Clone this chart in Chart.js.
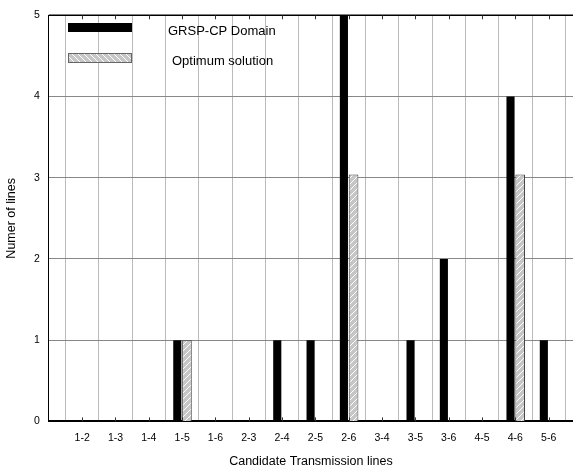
<!DOCTYPE html>
<html>
<head>
<meta charset="utf-8">
<script src="https://cdn.jsdelivr.net/npm/chart.js@4.4.0/dist/chart.umd.min.js"></script>
<style>
	html, body { margin:0; padding:0; background:#fff; }
	#wrap { width:573px; height:471px; }
</style>
</head>
<body>
<div id="wrap"><canvas id="lineChart"></canvas></div>
<script>
var lineNames = ['1-2', '1-3', '1-4', '1-5', '1-6', '2-3', '2-4', '2-5', '2-6', '3-4', '3-5', '3-6', '4-5', '4-6', '5-6'];
var grspDomain = [0, 0, 0, 1, 0, 0, 1, 1, 5, 0, 1, 2, 0, 4, 1];
var optimumSol = [0, 0, 0, 1, 0, 0, 0, 0, 3.04, 0, 0, 0, 0, 3.04, 0];
var yTicks = [0, 1, 2, 3, 4, 5];

function hatchPattern(dir) {
	var c = document.createElement('canvas');
	c.width = 6;
	c.height = 6;
	var g = c.getContext('2d');
	g.fillStyle = '#c6c6c6';
	g.fillRect(0, 0, 6, 6);
	g.strokeStyle = '#ffffff';
	g.lineWidth = 1;
	g.beginPath();
	if (dir > 0) {
		g.moveTo(-1, 7); g.lineTo(7, -1);
		g.moveTo(-4, 4); g.lineTo(4, -4);
		g.moveTo(2, 10); g.lineTo(10, 2);
	} else {
		g.moveTo(-1, -1); g.lineTo(7, 7);
		g.moveTo(-4, 2); g.lineTo(4, 10);
		g.moveTo(2, -4); g.lineTo(10, 4);
	}
	g.stroke();
	return g.createPattern(c, 'repeat');
}

function toXY(arr) {
	return arr.map(function (v, i) { return {x:i + 1, y:v}; });
}

// frame, inner ticks and the legend box drawn inside the plot
var framePlugin = {
	id:'frame',
	afterDatasetsDraw:function (chart) {
		var ctx = chart.ctx;
		var a = chart.chartArea;
		var xs = chart.scales.x;
		ctx.save();
		ctx.strokeStyle = '#000';
		ctx.lineWidth = 1.5;
		ctx.beginPath();
		ctx.moveTo(a.left, a.top);
		ctx.lineTo(a.right, a.top);
		ctx.stroke();
		ctx.lineWidth = 1;
		ctx.strokeStyle = '#333';
		for (var i = 1; i <= lineNames.length; i++) {
			var px = Math.round(xs.getPixelForValue(i)) + 0.5;
			ctx.beginPath();
			ctx.moveTo(px, a.top);
			ctx.lineTo(px, a.top + 4);
			ctx.moveTo(px, a.bottom);
			ctx.lineTo(px, a.bottom - 4);
			ctx.stroke();
		}
		// legend
		ctx.fillStyle = '#000';
		ctx.fillRect(68, 23, 64, 9);
		ctx.fillStyle = hatchPattern(-1);
		ctx.fillRect(68, 53, 64, 10);
		ctx.strokeStyle = '#666';
		ctx.strokeRect(68.5, 53.5, 63, 9);
		ctx.fillStyle = '#000';
		ctx.font = '13px "Liberation Sans", Arial, sans-serif';
		ctx.textBaseline = 'middle';
		ctx.fillText(chart.data.datasets[0].label, 168, 31);
		ctx.fillText(chart.data.datasets[1].label, 172, 61);
		ctx.restore();
	}
};

function DrawChart() {
	var ctx = document.getElementById('lineChart').getContext('2d');
	var tickFont = {family:'"Liberation Sans", Arial, sans-serif', size:10.5};
	var titleFont = {family:'"Liberation Sans", Arial, sans-serif', size:12.5};
	new Chart(ctx, {
		type:'bar',
		plugins:[framePlugin],
		data:{
			datasets:[
				{
					label:'GRSP-CP Domain',
					data:toXY(grspDomain),
					backgroundColor:'#000',
					barPercentage:0.84,
					categoryPercentage:0.58
				}, {
					label:'Optimum solution',
					data:toXY(optimumSol),
					backgroundColor:hatchPattern(1),
					borderColor:'#444',
					borderWidth:1,
					barPercentage:1,
					categoryPercentage:0.58
				}
			]
		},
		options:{
			responsive:true,
			maintainAspectRatio:false,
			animation:false,
			layout:{padding:{top:2, right:0, left:0, bottom:0}},
			plugins:{
				legend:{display:false},
				tooltip:{enabled:false}
			},
			scales:{
				x:{
					type:'linear',
					offset:false,
					min:0,
					max:15.73,
					afterBuildTicks:function (scale) {
						scale.ticks = lineNames.map(function (n, i) { return {value:i + 1}; });
					},
					ticks:{
						color:'#000',
						font:tickFont,
						padding:10,
						maxRotation:0,
						autoSkip:false,
						callback:function (v) { return lineNames[v - 1] || ''; }
					},
					grid:{color:'#bbbbbb', lineWidth:1, drawTicks:false},
					border:{color:'#000', width:2},
					title:{display:true, text:'Candidate Transmission lines', color:'#000', font:titleFont, padding:{top:0, bottom:2}}
				},
				y:{
					min:0,
					max:5,
					afterBuildTicks:function (scale) {
						scale.ticks = yTicks.map(function (v) { return {value:v}; });
					},
					ticks:{color:'#000', font:tickFont, padding:9},
					grid:{color:'#888888', lineWidth:1, drawTicks:false},
					border:{color:'#000', width:1},
					title:{display:true, text:'Numer of lines', color:'#000', font:titleFont, padding:{top:4, bottom:6}}
				}
			}
		}
	});
}
DrawChart();
</script>
</body>
</html>
